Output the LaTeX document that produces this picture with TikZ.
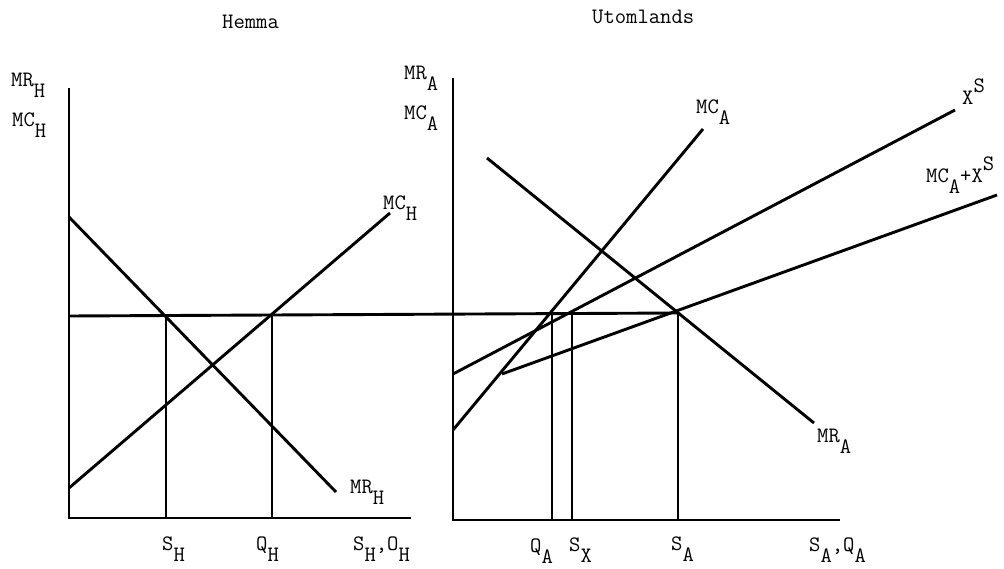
\documentclass[tikz,border=0pt]{standalone}
\usepackage{fontspec}
\newcommand\lo[1]{\raisebox{-11pt}{#1}}
\newcommand\hi[1]{\raisebox{12pt}{#1}}
\begin{document}
\begin{tikzpicture}[x=1pt,y=-1pt,
  curve/.style={line width=2.9pt},
  axis/.style={line width=2.9pt},
  lbl/.style={anchor=base west,inner sep=0pt,font=\fontsize{22}{24}\selectfont\ttfamily}]
\useasboundingbox (0,0) rectangle (1004,569);
% left panel coordinates
\coordinate (LO) at (69,518);
\coordinate (LY) at (69,88);
\coordinate (LX) at (411,518);
\coordinate (MRH1) at (69,217);
\coordinate (MRH2) at (336,492);
\coordinate (MCH1) at (69,488);
\coordinate (MCH2) at (390,213);
\coordinate (PH1) at (166,315);
\coordinate (PH2) at (272,315);
\coordinate (PH1b) at (166,518);
\coordinate (PH2b) at (272,518);
% right panel coordinates
\coordinate (RO) at (453,520);
\coordinate (RY) at (453,78);
\coordinate (RX) at (840,520);
\coordinate (MCA1) at (453,430);
\coordinate (MCA2) at (703,129);
\coordinate (MRA1) at (487,158);
\coordinate (MRA2) at (814,423);
\coordinate (XS1) at (453,374);
\coordinate (XS2) at (955,110);
\coordinate (MX1) at (502,374);
\coordinate (MX2) at (997,195);
\coordinate (QA) at (552,314);
\coordinate (SX) at (572,314);
\coordinate (SA) at (678,313);
\coordinate (QAb) at (552,520);
\coordinate (SXb) at (572,520);
\coordinate (SAb) at (678,520);
\coordinate (HL) at (69,316);
% axes
\draw[axis] (LY) -- (LO) -- (LX);
\draw[axis] (RY) -- (RO) -- (RX);
% left curves
\draw[curve] (MRH1) -- (MRH2);
\draw[curve] (MCH1) -- (MCH2);
\draw[curve] (PH1) -- (PH1b);
\draw[curve] (PH2) -- (PH2b);
% price line
\draw[curve] (HL) -- (SA);
% right curves
\draw[curve] (MCA1) -- (MCA2);
\draw[curve] (MRA1) -- (MRA2);
\draw[curve] (XS1) -- (XS2);
\draw[curve] (MX1) -- (MX2);
\draw[curve] (QA) -- (QAb);
\draw[curve] (SX) -- (SXb);
\draw[curve] (SA) -- (SAb);
% titles
\node[lbl] (tH) at (222,29) {Hemma};
\node[lbl] (tU) at (592,24) {Utomlands};
% left axis labels
\node[lbl] (lMRH) at (11,87) {MR\lo{H}};
\node[lbl] (lMCH) at (12,127) {MC\lo{H}};
\node[lbl] (lMCH2) at (383,210) {MC\lo{H}};
\node[lbl] (lMRH2) at (350,493) {MR\lo{H}};
\node[lbl] (lSH) at (162,550) {S\lo{H}};
\node[lbl] (lQH) at (256,550) {Q\lo{H}};
\node[lbl] (lSO) at (353,550) {S\lo{H},O\lo{H}};
% right labels
\node[lbl] (lMRA) at (404,80) {MR\lo{A}};
\node[lbl] (lMCA) at (404,120) {MC\lo{A}};
\node[lbl] (lMCA2) at (696,114) {MC\lo{A}};
\node[lbl] (lXS) at (962,105) {X\hi{S}};
\node[lbl] (lMX) at (926,183) {MC\lo{A}+X\hi{S}};
\node[lbl] (lMRA2) at (817,442) {MR\lo{A}};
\node[lbl] (lQA) at (530,552) {Q\lo{A}};
\node[lbl] (lSX) at (569,551) {S\lo{X}};
\node[lbl] (lSA) at (671,550) {S\lo{A}};
\node[lbl] (lSQ) at (809,551) {S\lo{A},Q\lo{A}};
\end{tikzpicture}
\end{document}
